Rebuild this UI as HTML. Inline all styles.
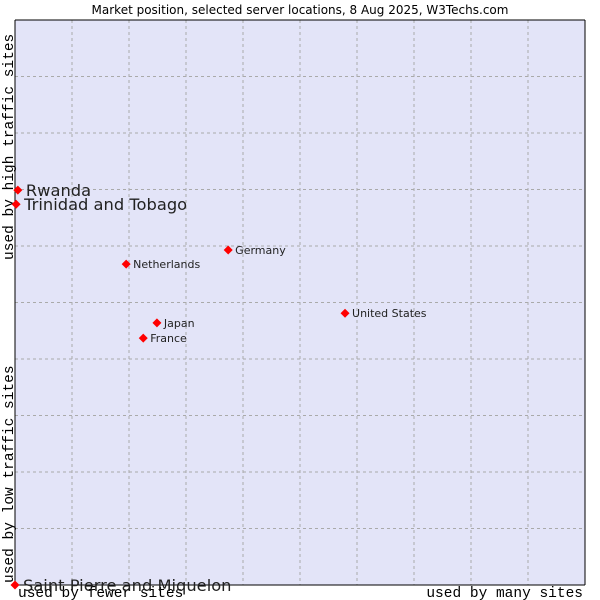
<!DOCTYPE html>
<html><head><meta charset="utf-8"><style>
body{margin:0;background:#fff;width:600px;height:600px;overflow:hidden}
svg{display:block}
</style></head><body>
<svg id="chart" width="600" height="600" xmlns="http://www.w3.org/2000/svg">
<text x="300" y="14" text-anchor="middle" font-family="DejaVu Sans, sans-serif" font-size="12" fill="#000">Market position, selected server locations, 8 Aug 2025, W3Techs.com</text>
<rect x="15" y="20" width="570" height="565" fill="#e3e4f8"/>
<g id="grid"></g>
<line x1="15" y1="20" x2="15" y2="585" stroke="#000"/>
<line x1="15" y1="585" x2="585" y2="585" stroke="#000"/>
<line x1="585" y1="20" x2="585" y2="585" stroke="#000"/>
<line x1="15" y1="20" x2="585" y2="20" stroke="#000"/>
<text x="18" y="597" font-family="Liberation Mono, monospace" font-size="14.5">used by fewer sites</text>
<text x="583" y="597" text-anchor="end" font-family="Liberation Mono, monospace" font-size="14.5">used by many sites</text>
<text transform="translate(13,583) rotate(-90)" font-family="Liberation Mono, monospace" font-size="14.5">used by low traffic sites</text>
<text transform="translate(13,260) rotate(-90)" font-family="Liberation Mono, monospace" font-size="14.5">used by high traffic sites</text>
<g id="points"></g>
</svg>
<script>
const countries=["Rwanda","Trinidad and Tobago","Germany","Netherlands","United States","Japan","France","Saint Pierre and Miquelon"];
const xValues=[0.5,0.2,37.4,19.5,57.9,24.9,22.5,0];
const yValues=[69.9,67.4,59.3,56.8,48.1,46.4,43.7,0];
const bigLabel=[true,true,false,false,false,false,false,true];
const L=15,T=20,W=570,H=565;
const xs=v=>L+v/100*W, ys=v=>T+H-v/100*H;
const NS="http://www.w3.org/2000/svg";
const grid=document.getElementById('grid');
for(let i=1;i<10;i++){
  const l=document.createElementNS(NS,'line');
  const x=L+i*W/10;
  l.setAttribute('x1',x);l.setAttribute('x2',x);l.setAttribute('y1',T);l.setAttribute('y2',T+H);
  l.setAttribute('stroke','#aaa');l.setAttribute('stroke-dasharray','3,3');
  
  
  grid.appendChild(l);
  const h=document.createElementNS(NS,'line');
  const y=T+i*H/10;
  h.setAttribute('x1',L);h.setAttribute('x2',L+W);h.setAttribute('y1',y);h.setAttribute('y2',y);
  h.setAttribute('stroke','#aaa');h.setAttribute('stroke-dasharray','3,3');
  
  
  grid.appendChild(h);
}
const pts=document.getElementById('points');
countries.forEach((c,i)=>{
  const x=xs(xValues[i]),y=ys(yValues[i]);
  const d=document.createElementNS(NS,'polygon');
  d.setAttribute('points',`${x},${y-4.5} ${x+4.5},${y} ${x},${y+4.5} ${x-4.5},${y}`);
  d.setAttribute('fill','#f00');
  
  
  pts.appendChild(d);
  const t=document.createElementNS(NS,'text');
  t.setAttribute('x',x+(bigLabel[i]?8:7));
  t.setAttribute('y',y+(bigLabel[i]?6:4));
  t.setAttribute('font-family','DejaVu Sans, sans-serif');
  t.setAttribute('font-size',bigLabel[i]?16.3:11);
  t.setAttribute('fill','#222');
  t.textContent=c;
  
  
  pts.appendChild(t);
});
</script>
</body></html>
